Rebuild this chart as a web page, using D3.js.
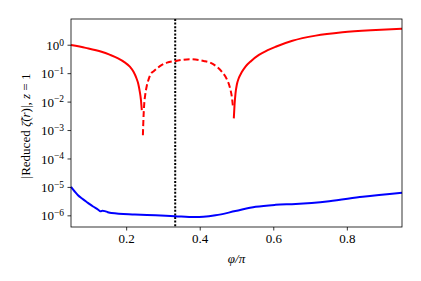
<!DOCTYPE html>
<html>
<head>
<meta charset="utf-8">
<script src="https://cdn.jsdelivr.net/npm/d3@7"></script>
<style>
  body { margin: 0; background: #fff; }
  svg text { font-family: "Liberation Serif", "DejaVu Serif", serif; fill: #000; }
</style>
</head>
<body>
<div id="chart"></div>
<script>
// 红线：正值段（实线）、负值段（虚线）、第二个正值段（实线）
const redPhiA = [0.05, 0.09, 0.133, 0.155, 0.178, 0.195, 0.21, 0.22, 0.228, 0.233, 0.237, 0.240, 0.2425];
const redValA = [0.977, 0.776, 0.568, 0.447, 0.331, 0.245, 0.170, 0.112, 0.0661, 0.0417, 0.0224, 0.0120, 0.00501];

const redPhiB = [0.2455, 0.247, 0.249, 0.252, 0.256, 0.261, 0.267, 0.275, 0.284, 0.296, 0.311, 0.338, 0.3745, 0.411, 0.43, 0.447, 0.462, 0.474, 0.482, 0.488, 0.4905];
const redValB = [6.6e-4, 2.51e-3, 7.94e-3, 0.0178, 0.0355, 0.0603, 0.0955, 0.1175, 0.148, 0.191, 0.234, 0.275, 0.309, 0.269, 0.229, 0.166, 0.105, 0.0603, 0.0316, 0.0126, 0.0063];

const redPhiC = [0.4927, 0.4945, 0.4973, 0.501, 0.506, 0.514, 0.5245, 0.54, 0.561, 0.5835, 0.6065, 0.652, 0.7155, 0.788, 0.879, 0.95];
const redValC = [2.57e-3, 7.1e-3, 0.0195, 0.0398, 0.0661, 0.107, 0.170, 0.269, 0.437, 0.631, 0.851, 1.38, 2.09, 2.74, 3.30, 3.66];

// 蓝线
const bluePhi = [0.05, 0.06, 0.069, 0.08, 0.096, 0.11, 0.124, 0.13, 0.135, 0.142, 0.15, 0.16, 0.2237, 0.28, 0.3327, 0.387, 0.41, 0.443, 0.497, 0.552, 0.606, 0.661, 0.752, 0.843, 0.95];
const blueVal = [1.0e-5, 6.9e-6, 5.1e-6, 3.9e-6, 2.75e-6, 2.04e-6, 1.58e-6, 1.38e-6, 1.45e-6, 1.41e-6, 1.29e-6, 1.20e-6, 1.07e-6, 1.0e-6, 9.3e-7, 8.7e-7, 8.9e-7, 1.0e-6, 1.41e-6, 2.0e-6, 2.34e-6, 2.51e-6, 3.16e-6, 4.47e-6, 6.2e-6];

const xTicks = [0.2, 0.4, 0.6, 0.8];
const yExps = [0, -1, -2, -3, -4, -5, -6];
const vLine = 1 / 3;

const width = 421, height = 281;
const margin = { top: 19, right: 19, bottom: 54, left: 71 };
const fontSize = 13;

const svg = d3.select('#chart').append('svg')
    .attr('width', width)
    .attr('height', height);

const x = d3.scaleLinear().domain([0.05, 0.95]).range([margin.left, width - margin.right]);
const y = d3.scaleLog().domain([Math.pow(10, -6.41), Math.pow(10, 0.905)]).range([height - margin.bottom, margin.top]);

const line = d3.line()
    .x(d => x(d[0]))
    .y(d => y(d[1]))
    .curve(d3.curveMonotoneX);

const g = svg.append('g');

// 竖直点线
g.append('line')
    .attr('x1', x(vLine)).attr('x2', x(vLine))
    .attr('y1', margin.top).attr('y2', height - margin.bottom)
    .attr('stroke', '#000')
    .attr('stroke-width', 2)
    .attr('stroke-dasharray', '2,1.6');

const series = [
    { phi: redPhiA, val: redValA, color: '#ff0000', dash: null },
    { phi: redPhiB, val: redValB, color: '#ff0000', dash: '6,3' },
    { phi: redPhiC, val: redValC, color: '#ff0000', dash: null },
    { phi: bluePhi, val: blueVal, color: '#0000ff', dash: null }
];

series.forEach(s => {
    g.append('path')
        .datum(d3.zip(s.phi, s.val))
        .attr('d', line)
        .attr('fill', 'none')
        .attr('stroke', s.color)
        .attr('stroke-width', 2)
        .attr('stroke-dasharray', s.dash);
});

// 坐标框
svg.append('rect')
    .attr('x', margin.left).attr('y', margin.top)
    .attr('width', width - margin.left - margin.right)
    .attr('height', height - margin.top - margin.bottom)
    .attr('fill', 'none')
    .attr('stroke', '#000')
    .attr('stroke-width', 0.8);

// x轴
const xAxis = svg.append('g')
    .attr('transform', `translate(0, ${height - margin.bottom})`)
    .call(d3.axisBottom(x).tickValues(xTicks).tickSize(3.5).tickPadding(3).tickFormat(d3.format('.1f')));
xAxis.select('.domain').remove();
xAxis.selectAll('line').attr('stroke-width', 0.8);
xAxis.selectAll('text').attr('font-size', fontSize).attr('font-family', null);

// y轴
const yAxis = svg.append('g')
    .attr('transform', `translate(${margin.left}, 0)`)
    .call(d3.axisLeft(y).tickValues(yExps.map(e => Math.pow(10, e))).tickSize(3.5).tickPadding(4).tickFormat(''));
yAxis.select('.domain').remove();
yAxis.selectAll('line').attr('stroke-width', 0.8);

yAxis.selectAll('.tick').each(function (d) {
    const e = Math.round(Math.log10(d));
    const t = d3.select(this).append('text')
        .attr('x', -7)
        .attr('dy', '0.35em')
        .attr('text-anchor', 'end')
        .attr('font-size', fontSize);
    t.append('tspan').text('10');
    t.append('tspan')
        .attr('dy', '-0.45em')
        .attr('font-size', 9.5)
        .text(e === 0 ? '0' : '\u2212' + Math.abs(e));
});

// 轴标题
svg.append('text')
    .attr('x', (margin.left + width - margin.right) / 2)
    .attr('y', 263)
    .attr('text-anchor', 'middle')
    .attr('font-size', fontSize)
    .attr('font-style', 'italic')
    .text('φ/π');

const yl = svg.append('text')
    .attr('transform', 'translate(30, 126) rotate(-90)')
    .attr('text-anchor', 'middle')
    .attr('font-size', fontSize);
yl.append('tspan').text('|Reduced ');
yl.append('tspan').attr('font-style', 'italic').text('ζ\u0303');
yl.append('tspan').text('(');
yl.append('tspan').attr('font-style', 'italic').text('r');
yl.append('tspan').text(')|, ');
yl.append('tspan').attr('font-style', 'italic').text('z');
yl.append('tspan').text(' = 1');
</script>
</body>
</html>
